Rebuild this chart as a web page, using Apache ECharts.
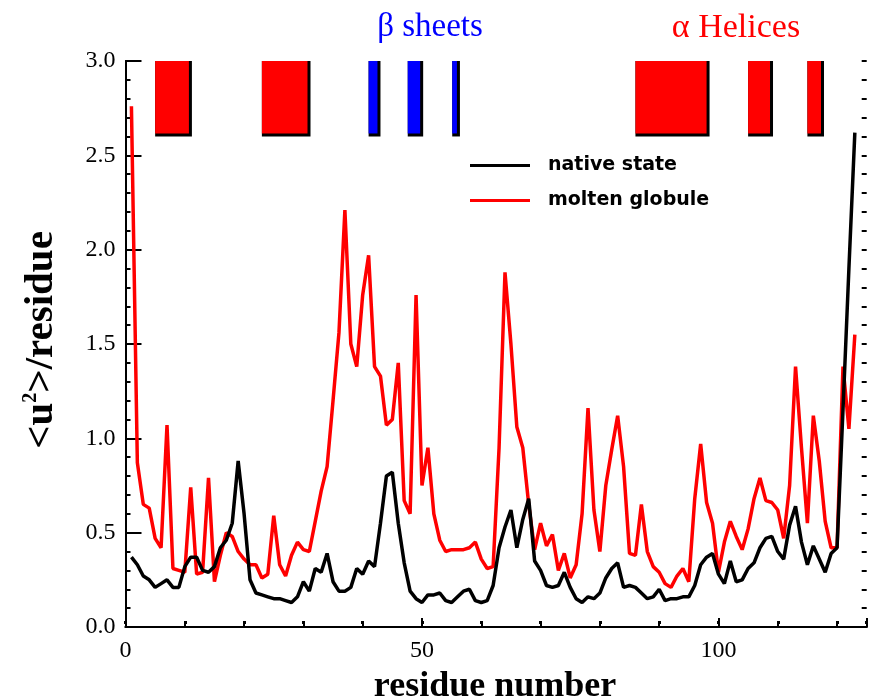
<!DOCTYPE html>
<html><head><meta charset="utf-8">
<script src="https://cdn.jsdelivr.net/npm/echarts@6/dist/echarts.min.js"></script>
<style>html,body{margin:0;padding:0;background:#fff}#c{width:872px;height:699px}</style>
</head><body><div id="c"></div>
<script>
// residue numbers 1..123
const residues = [1,2,3,4,5,6,7,8,9,10,11,12,13,14,15,16,17,18,19,20,21,22,23,24,25,26,27,28,29,30,
31,32,33,34,35,36,37,38,39,40,41,42,43,44,45,46,47,48,49,50,51,52,53,54,55,56,57,58,59,60,
61,62,63,64,65,66,67,68,69,70,71,72,73,74,75,76,77,78,79,80,81,82,83,84,85,86,87,88,89,90,
91,92,93,94,95,96,97,98,99,100,101,102,103,104,105,106,107,108,109,110,111,112,113,114,115,116,117,118,119,120,
121,122,123];

const nativeState = [0.37,0.33,0.27,0.25,0.21,0.23,0.25,0.21,0.21,0.32,
0.37,0.37,0.30,0.29,0.32,0.42,0.46,0.55,0.88,0.60,
0.25,0.18,0.17,0.16,0.15,0.15,0.14,0.13,0.16,0.24,
0.19,0.31,0.29,0.39,0.24,0.19,0.19,0.21,0.31,0.28,
0.35,0.32,0.55,0.80,0.82,0.55,0.34,0.19,0.15,0.13,
0.17,0.17,0.18,0.14,0.13,0.16,0.19,0.20,0.14,0.13,
0.14,0.22,0.42,0.53,0.62,0.42,0.57,0.68,0.35,0.30,
0.22,0.21,0.22,0.29,0.21,0.15,0.13,0.16,0.15,0.18,
0.26,0.31,0.34,0.21,0.22,0.21,0.18,0.15,0.16,0.20,
0.14,0.15,0.15,0.16,0.16,0.22,0.33,0.37,0.39,0.28,
0.23,0.35,0.24,0.25,0.31,0.34,0.42,0.47,0.48,0.40,
0.36,0.54,0.64,0.45,0.33,0.43,0.36,0.29,0.39,0.42,
1.15,1.90,2.62];

const moltenGlobule = [2.76,0.87,0.65,0.63,0.47,0.42,1.07,0.31,0.30,0.29,
0.74,0.28,0.29,0.79,0.24,0.38,0.50,0.48,0.40,0.36,
0.33,0.33,0.26,0.28,0.59,0.33,0.27,0.38,0.45,0.41,
0.40,0.56,0.72,0.85,1.20,1.56,2.21,1.50,1.38,1.76,
1.97,1.38,1.33,1.07,1.10,1.40,0.67,0.60,1.76,0.75,
0.95,0.60,0.46,0.40,0.41,0.41,0.41,0.42,0.45,0.36,
0.31,0.32,0.95,1.88,1.50,1.06,0.95,0.65,0.41,0.55,
0.43,0.49,0.30,0.39,0.26,0.33,0.60,1.16,0.62,0.40,
0.75,0.94,1.12,0.85,0.39,0.38,0.65,0.40,0.32,0.29,
0.23,0.21,0.27,0.31,0.24,0.68,0.97,0.66,0.55,0.29,
0.45,0.56,0.48,0.41,0.52,0.68,0.79,0.67,0.66,0.62,
0.47,0.75,1.38,0.95,0.55,1.12,0.88,0.56,0.42,0.42,
1.38,1.05,1.55];

// secondary structure blocks: [start residue, end residue]
const helixStart = [5, 23, 86, 105, 115];
const helixEnd   = [11.2, 31.2, 98.5, 109.2, 117.8];
const sheetStart = [41, 47.6, 55.1];
const sheetEnd   = [43, 50.2, 56.4];
const blockTop = 3.0, blockBottom = 2.6;

const xTickLabels = [0, 50, 100];

const blocks = [];
helixStart.forEach((s,i)=>blocks.push([s, helixEnd[i], blockTop, blockBottom, 0]));
sheetStart.forEach((s,i)=>blocks.push([s, sheetEnd[i], blockTop, blockBottom, 1]));

const chart = echarts.init(document.getElementById('c'), null, {renderer:'canvas'});
const serif = 'Liberation Serif';
const axisLineStyle = {color:'#000', width:2};

// helper: tick-only axis placed inside the plot via negative offset
function xTickAxis(pos, interval, len, width){
  return {type:'value', min:0, max:125, interval:interval, position:pos, offset:-len,
    axisLine:{show:false}, splitLine:{show:false}, axisLabel:{show:false},
    axisTick:{show:true, length:len, lineStyle:{color:'#000', width:width}}};
}
function yTickAxis(pos, interval, len){
  return {type:'value', min:0, max:3, interval:interval, position:pos, offset:-len,
    axisLine:{show:false}, splitLine:{show:false}, axisLabel:{show:false},
    axisTick:{show:true, length:len, lineStyle:{color:'#000', width:2}}};
}
const legendText = {fontFamily:'DejaVu Sans', fontWeight:'bold', fontSize:19, color:'#000', padding:[0,0,0,13]};

chart.setOption({
  animation:false,
  backgroundColor:'#fff',
  grid:{left:125.5, right:5.3, top:61, bottom:72, containLabel:false},
  xAxis:[
    {type:'value', min:0, max:125, interval:10, position:'bottom',
     axisLine:{lineStyle:axisLineStyle}, splitLine:{show:false},
     axisTick:{show:false},
     axisLabel:{fontFamily:serif, fontSize:24, color:'#000', margin:12,
       formatter:v=> xTickLabels.indexOf(v)>=0 ? String(v) : ''}},
    {type:'value', min:0, max:125, interval:10, position:'top',
     axisLine:{lineStyle:axisLineStyle}, splitLine:{show:false},
     axisTick:{show:false}, axisLabel:{show:false}},
    xTickAxis('bottom', 10, 5, 2),
    xTickAxis('bottom', 50, 9, 2),
    xTickAxis('top', 10, 3, 3)
  ],
  yAxis:[
    {type:'value', min:0, max:3, interval:0.5, position:'left',
     axisLine:{lineStyle:axisLineStyle}, splitLine:{show:false},
     axisTick:{show:false},
     axisLabel:{fontFamily:serif, fontSize:24, color:'#000', margin:10, formatter:v=>v.toFixed(1)}},
    {type:'value', min:0, max:3, interval:0.5, position:'right',
     axisLine:{lineStyle:axisLineStyle}, splitLine:{show:false},
     axisTick:{show:false}, axisLabel:{show:false}},
    yTickAxis('left', 0.5, 8),
    yTickAxis('left', 0.1, 5),
    yTickAxis('right', 0.5, 8),
    yTickAxis('right', 0.1, 5)
  ],
  legend:[
    {data:['native state'], left:470, top:156, padding:0, icon:'rect', itemWidth:60, itemHeight:3, textStyle:legendText},
    {data:['molten globule'], left:470, top:191, padding:0, icon:'rect', itemWidth:60, itemHeight:3, textStyle:legendText}
  ],
  graphic:[
    {type:'text', x:430, y:27, style:{text:'β sheets', fill:'#0000ff', font:'33px "Liberation Serif"', textAlign:'center', textVerticalAlign:'middle'}},
    {type:'text', x:736, y:28, style:{text:'α Helices', fill:'#ff0000', font:'34px "Liberation Serif"', textAlign:'center', textVerticalAlign:'middle'}},
    {type:'text', x:495, y:687, style:{text:'residue number', fill:'#000', font:'bold 36px "Liberation Serif"', textAlign:'center', textVerticalAlign:'middle'}},
    {type:'text', x:41, y:340, rotation:Math.PI/2,
     style:{text:'<u{sup|2}>/residue', fill:'#000', font:'bold 41px "Liberation Serif"', textAlign:'center', textVerticalAlign:'middle',
       rich:{sup:{fontSize:20, fontWeight:'bold', fontFamily:serif, verticalAlign:'top', padding:[0,0,20,0]}}}}
  ],
  series:[
    {type:'custom', name:'structure', xAxisIndex:0, yAxisIndex:0, data:blocks, encode:{x:[0,1], y:[2,3]}, z:5,
     renderItem:function(params, api){
       const p0 = api.coord([api.value(0), api.value(2)]);
       const p1 = api.coord([api.value(1), api.value(3)]);
       const color = api.value(4) === 0 ? '#ff0000' : '#0000ff';
       const w = p1[0]-p0[0], h = p1[1]-p0[1];
       return {type:'group', children:[
         {type:'rect', shape:{x:p0[0], y:p0[1], width:w, height:h}, style:{fill:'#000'}},
         {type:'rect', shape:{x:p0[0], y:p0[1], width:w-3, height:h-3}, style:{fill:color}}
       ]};
     }},
    {type:'line', name:'molten globule', xAxisIndex:0, yAxisIndex:0, data:residues.map((r,i)=>[r, moltenGlobule[i]]),
     showSymbol:false, symbol:'none', color:'#ff0000', lineStyle:{color:'#ff0000', width:3.5}, z:3},
    {type:'line', name:'native state', xAxisIndex:0, yAxisIndex:0, data:residues.map((r,i)=>[r, nativeState[i]]),
     showSymbol:false, symbol:'none', color:'#000000', lineStyle:{color:'#000000', width:3.5}, z:4}
  ]
});
</script></body></html>
